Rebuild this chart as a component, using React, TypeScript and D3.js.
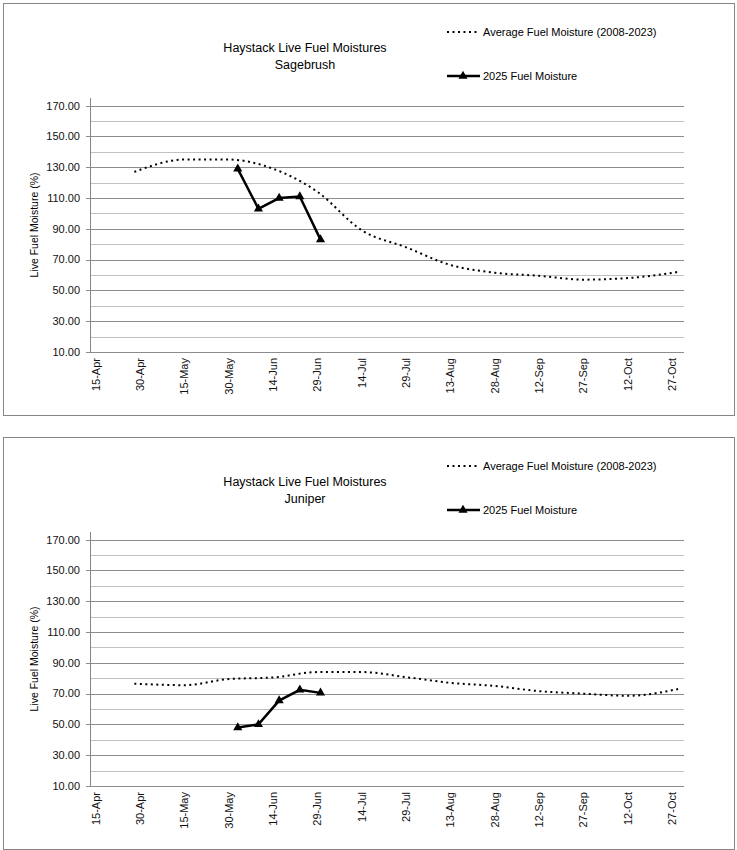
import * as d3 from "d3";
import React from "react";

// x axis tick dates (every 15 days)
const tickDates = [
  "2025-04-15", "2025-04-30", "2025-05-15", "2025-05-30", "2025-06-14", "2025-06-29", "2025-07-14",
  "2025-07-29", "2025-08-13", "2025-08-28", "2025-09-12", "2025-09-27", "2025-10-12", "2025-10-27",
];

// average curve sample dates
const avgDates = [
  "2025-04-28", "2025-05-15", "2025-05-30", "2025-06-14", "2025-06-29", "2025-07-14", "2025-07-29",
  "2025-08-13", "2025-08-28", "2025-09-12", "2025-09-27", "2025-10-12", "2025-10-29",
];
const sageAvg = [127, 135, 135, 129, 114, 89, 78, 66.5, 61.5, 59.5, 57, 58, 62];
const juniperAvg = [76.5, 75.5, 79.5, 80.5, 84, 84, 80.7, 77, 75, 71.6, 70, 68.6, 73];

// 2025 samples
const sampleDates = ["2025-06-02", "2025-06-09", "2025-06-16", "2025-06-23", "2025-06-30"];
const sage2025 = [129, 103, 110, 111, 83];
const juniper2025 = [48, 50, 65.5, 72.5, 70.5];

const yMajor = [10, 30, 50, 70, 90, 110, 130, 150, 170];
const yMinor = [20, 40, 60, 80, 100, 120, 140, 160];

const parse = d3.timeParse("%Y-%m-%d");
const fmtTick = d3.timeFormat("%-d-%b");
const font = "'Liberation Sans', Arial, sans-serif";

interface ChartProps {
  top: number;
  species: string;
  avg: number[];
  cur: number[];
}

const Chart: React.FC<ChartProps> = ({ top, species, avg, cur }) => {
  const x = d3.scaleTime()
    .domain([parse("2025-04-13")!, parse("2025-10-31")!])
    .range([90, 684]);
  const y = d3.scaleLinear().domain([10, 175]).range([352, 98]);

  const avgPts = avgDates.map((d, i) => [x(parse(d)!), y(avg[i])] as [number, number]);
  const curPts = sampleDates.map((d, i) => [x(parse(d)!), y(cur[i])] as [number, number]);

  const smooth = d3.line().curve(d3.curveMonotoneX);
  const straight = d3.line();
  const tri = d3.symbol().type(d3.symbolTriangle).size(36)()!;

  return (
    <g transform={`translate(0,${top})`}>
      <rect x={3.5} y={3.5} width={731} height={412} fill="#fff" stroke="#868686" strokeWidth={1} />

      <text x={305} y={52} textAnchor="middle" fontFamily={font} fontSize={12.5} fill="#000">
        Haystack Live Fuel Moistures
      </text>
      <text x={305} y={69} textAnchor="middle" fontFamily={font} fontSize={12.5} fill="#000">
        {species}
      </text>

      {/* legend */}
      <line x1={447} x2={478} y1={32} y2={32} stroke="#000" strokeWidth={2} strokeDasharray="2 3.5" />
      <text x={483} y={36} fontFamily={font} fontSize={11} fill="#000">Average Fuel Moisture (2008-2023)</text>
      <line x1={447} x2={480} y1={76} y2={76} stroke="#000" strokeWidth={2.5} />
      <path d={tri} transform="translate(463,76)" fill="#000" />
      <text x={483} y={80} fontFamily={font} fontSize={11} fill="#000">2025 Fuel Moisture</text>

      {/* grid */}
      {yMinor.map(v => (
        <line key={"mi" + v} x1={90} x2={684} y1={Math.round(y(v)) + 0.5} y2={Math.round(y(v)) + 0.5}
          stroke="#c0c0c0" strokeWidth={1} />
      ))}
      {yMajor.map(v => (
        <line key={"ma" + v} x1={86} x2={684} y1={Math.round(y(v)) + 0.5} y2={Math.round(y(v)) + 0.5}
          stroke="#8c8c8c" strokeWidth={1} />
      ))}
      <line x1={90.5} x2={90.5} y1={98} y2={352} stroke="#868686" strokeWidth={1} />

      {yMajor.map(v => (
        <text key={"yl" + v} x={80} y={y(v)} dy="0.35em" textAnchor="end" fontFamily={font} fontSize={11} fill="#111">
          {v.toFixed(2)}
        </text>
      ))}
      <text transform={`translate(38,${(98 + 352) / 2}) rotate(-90)`} textAnchor="middle"
        fontFamily={font} fontSize={10.5} fill="#000">
        Live Fuel Moisture (%)
      </text>

      {tickDates.map(d => {
        const dt = parse(d)!;
        return (
          <text key={d} transform={`translate(${x(dt)},358) rotate(-90)`} dy="0.35em" textAnchor="end"
            fontFamily={font} fontSize={11} fill="#111">
            {fmtTick(dt)}
          </text>
        );
      })}

      {/* series */}
      <path d={smooth(avgPts)!} fill="none" stroke="#000" strokeWidth={2} strokeDasharray="2 3.5" />
      <path d={straight(curPts)!} fill="none" stroke="#000" strokeWidth={2.5} />
      {curPts.map((p, i) => (
        <path key={i} d={tri} transform={`translate(${p[0]},${p[1]})`} fill="#000" />
      ))}
    </g>
  );
};

export default function App() {
  return (
    <svg width={737} height={850} style={{ position: "absolute", left: 0, top: 0 }}>
      <rect width={737} height={850} fill="#fff" />
      <Chart top={0} species="Sagebrush" avg={sageAvg} cur={sage2025} />
      <Chart top={434} species="Juniper" avg={juniperAvg} cur={juniper2025} />
    </svg>
  );
}
